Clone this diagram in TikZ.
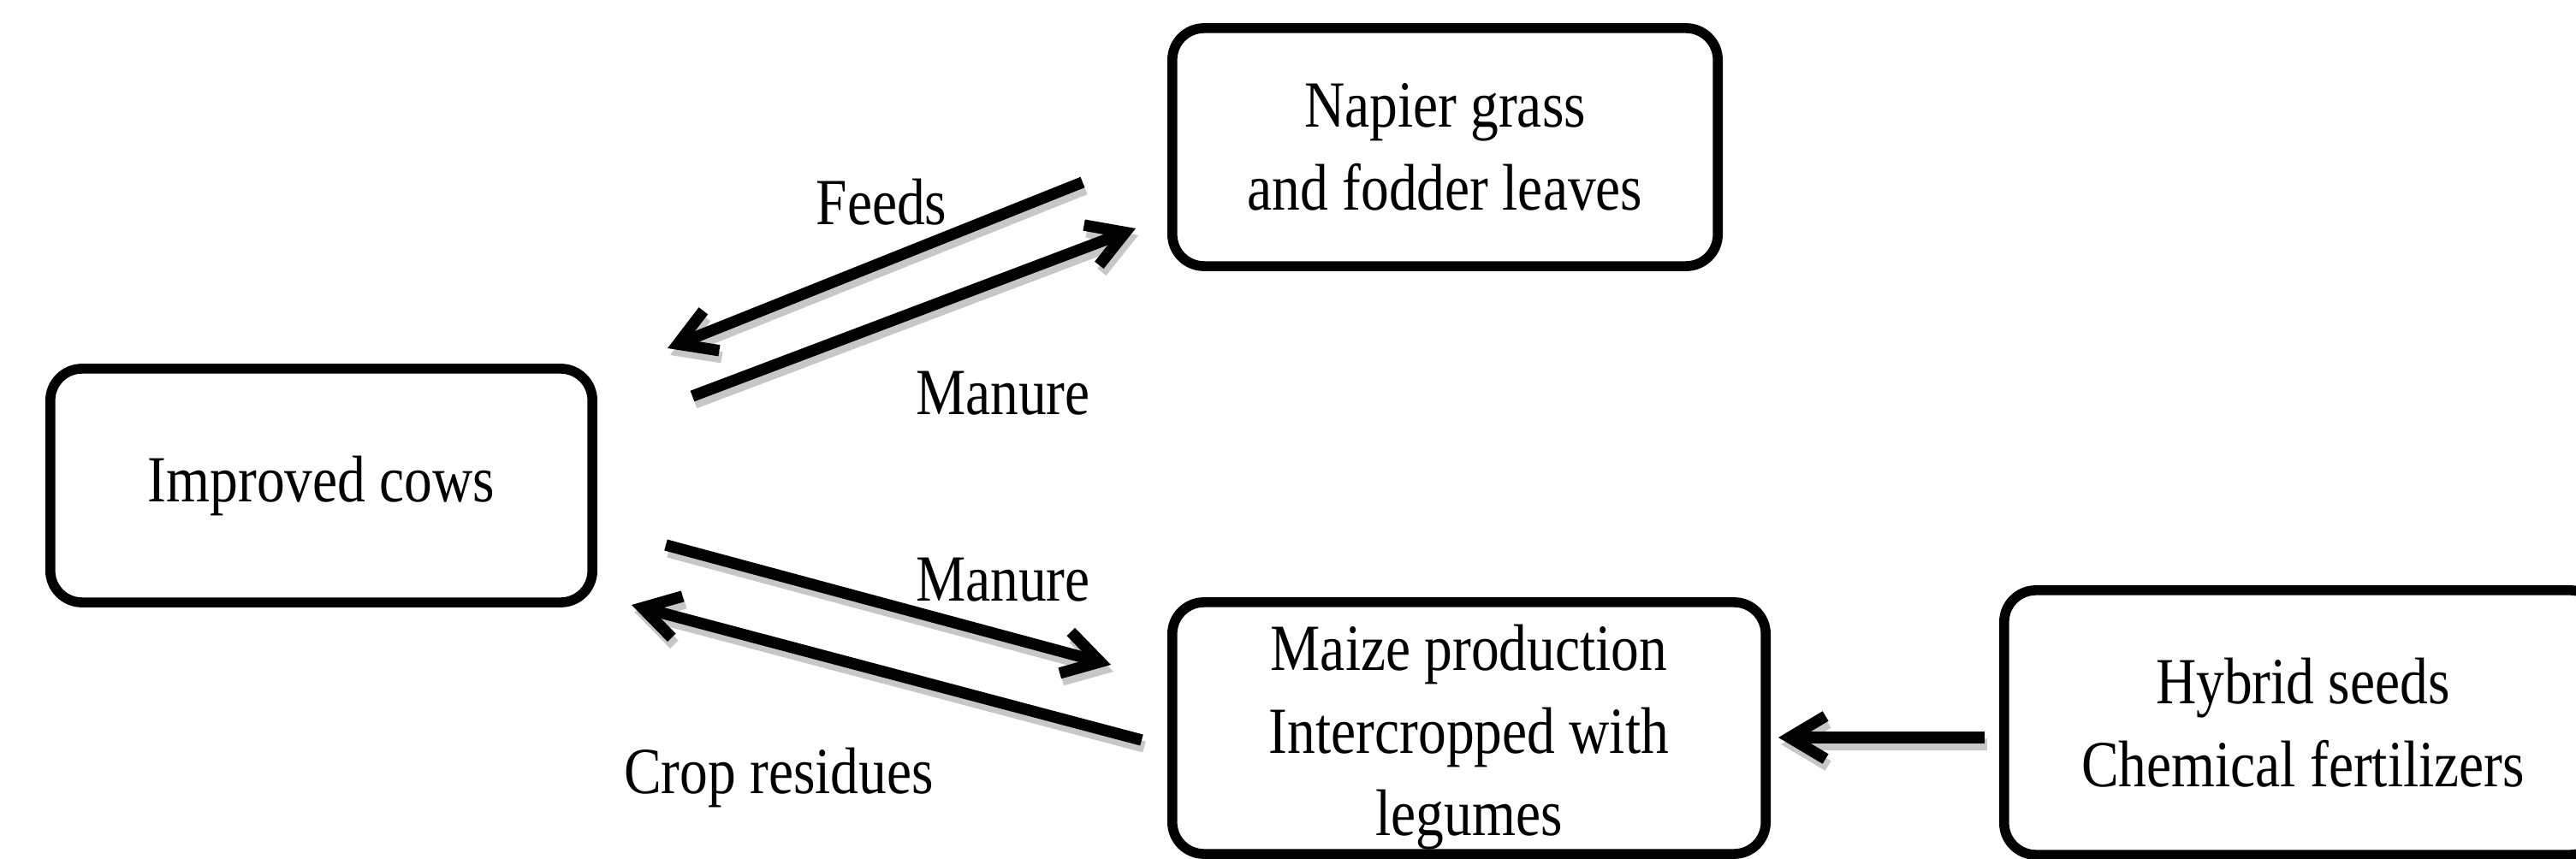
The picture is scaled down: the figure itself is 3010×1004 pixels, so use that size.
\documentclass[tikz,border=0pt]{standalone}
\usepackage{fontspec}
\setmainfont{Liberation Serif}[FakeStretch=0.85]
\usetikzlibrary{arrows.meta}

\begin{document}
\begin{tikzpicture}[x=0.01cm, y=-0.01cm,
    every node/.style={font=\fontsize{21.9}{27.4}\selectfont},
    box/.style={draw, line width=3.3pt, rounded corners=.37cm,
      align=center, inner sep=0pt},
    flow/.style={line width=3.8pt,
      -{Straight Barb[length=.42cm, width=.5cm]}},
    flowshadow/.style={flow, draw=black!22},
    tag/.style={anchor=base}]
  \useasboundingbox (0,0) rectangle (3010,1004);

  % boxes
  \node[box, minimum width=6.33cm, minimum height=2.73cm] (cows)
    at (375.5,567.5) {Improved cows};
  \node[box, minimum width=6.37cm, minimum height=2.78cm] (napier)
    at (1688.5,172) {Napier grass\\and fodder leaves};
  \node[box, minimum width=6.93cm, minimum height=2.94cm] (maize)
    at (1716.5,851) {\rule{0pt}{.75cm}Maize production\\Intercropped with\\legumes};
  \node[box, minimum width=6.98cm, minimum height=3.09cm] (hybrid)
    at (2691,844.5) {Hybrid seeds\\Chemical fertilizers};

  % arrow ends
  \coordinate (feedsFrom) at (1265,213);
  \coordinate (feedsTo) at (780,407);
  \coordinate (manureUpFrom) at (809,463);
  \coordinate (manureUpTo) at (1327,267);
  \coordinate (manureDownFrom) at (778,637);
  \coordinate (manureDownTo) at (1298,777);
  \coordinate (residuesFrom) at (1334,865);
  \coordinate (residuesTo) at (738,707);
  \coordinate (inputsFrom) at (2319,862);
  \coordinate (inputsTo) at (2078,862);

  \foreach \a/\b in {feedsFrom/feedsTo, manureUpFrom/manureUpTo,
      manureDownFrom/manureDownTo, residuesFrom/residuesTo,
      inputsFrom/inputsTo}{
    \draw[flowshadow] ([shift={(3,8)}]\a) -- ([shift={(3,8)}]\b);
    \draw[flow] (\a) -- (\b);}

  % labels
  \node[tag] (feeds) at (1030,263) {Feeds};
  \node[tag] (manureUp) at (1172,485) {Manure};
  \node[tag] (manureDown) at (1172,703) {Manure};
  \node[tag] (residues) at (910,927) {Crop residues};
\end{tikzpicture}
\end{document}
